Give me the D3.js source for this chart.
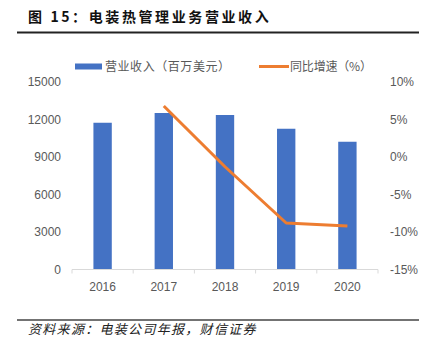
<!DOCTYPE html>
<html>
<head>
<meta charset="utf-8">
<script src="https://cdn.jsdelivr.net/npm/d3@7"></script>
<style>
  body { margin: 0; background: #fff; }
  svg { display: block; }
  .tk text { font-family: "Liberation Sans", Arial, sans-serif; font-size: 12px; fill: #595959; }
  .cjk { font-kerning: none; font-feature-settings: "chws" 0, "halt" 0, "palt" 0; }
</style>
</head>
<body>
<div id="chart"></div>
<script>
// 电装热管理业务营业收入
const years = ["2016", "2017", "2018", "2019", "2020"];
const revenue = [11740, 12520, 12360, 11260, 10220];
const growth = [null, 6.8, -1.3, -8.8, -9.2];
const left_ticks = [0, 3000, 6000, 9000, 12000, 15000];
const right_ticks = [-15, -10, -5, 0, 5, 10];

const w = 430;
const h = 352;
const margin = { top: 82, right: 52, bottom: 82.5, left: 72 };

const svg = d3.select("#chart").append("svg")
    .attr("width", w)
    .attr("height", h);

// title + rule
svg.append("text")
    .attr("class", "cjk")
    .attr("x", 28)
    .attr("y", 22)
    .style("font-family", "'Noto Sans CJK SC', sans-serif")
    .style("font-weight", "bold")
    .style("font-size", "14px")
    .style("letter-spacing", "2.6px")
    .style("fill", "#111")
    .text("图 15：电装热管理业务营业收入");

svg.append("line")
    .attr("x1", 17).attr("x2", 419)
    .attr("y1", 32.5).attr("y2", 32.5)
    .attr("stroke", "#222")
    .attr("stroke-width", 2);

const x = d3.scaleBand()
    .domain(years)
    .range([margin.left, w - margin.right])
    .paddingInner(0.7)
    .paddingOuter(0.35);

const y = d3.scaleLinear()
    .domain([0, 15000])
    .range([h - margin.bottom, margin.top]);

const y2 = d3.scaleLinear()
    .domain([-15, 10])
    .range([h - margin.bottom, margin.top]);

// left axis
svg.append("g")
    .attr("class", "tk")
    .attr("transform", `translate(${margin.left - 11},0)`)
    .call(d3.axisLeft(y).tickValues(left_ticks).tickSize(0).tickPadding(0).tickFormat(d3.format("d")))
    .call(g => g.select(".domain").remove());

// right axis
svg.append("g")
    .attr("class", "tk")
    .attr("transform", `translate(${w - margin.right + 12},0)`)
    .call(d3.axisRight(y2).tickValues(right_ticks).tickSize(0).tickPadding(0).tickFormat(d => d + "%"))
    .call(g => g.select(".domain").remove());

// bars
svg.append("g")
    .selectAll("rect")
    .data(years)
    .join("rect")
    .attr("x", d => x(d))
    .attr("width", x.bandwidth())
    .attr("y", (d, i) => y(revenue[i]))
    .attr("height", (d, i) => y(0) - y(revenue[i]))
    .attr("fill", "#4472C4");

// x axis
const base = y(0);
const xa = svg.append("g").attr("transform", `translate(0,${base})`);
xa.append("line")
    .attr("x1", margin.left).attr("x2", w - margin.right)
    .attr("stroke", "#d9d9d9")
    .attr("stroke-width", 1);
const bounds = years.map(d => x(d) - x.step() * x.paddingInner() / 2);
bounds.push(w - margin.right);
xa.selectAll("line.tick")
    .data(bounds)
    .join("line")
    .attr("class", "tick")
    .attr("x1", d => d).attr("x2", d => d)
    .attr("y1", 0).attr("y2", 4)
    .attr("stroke", "#d9d9d9");
xa.append("g")
    .attr("class", "tk")
    .selectAll("text")
    .data(years)
    .join("text")
    .attr("x", d => x(d) + x.bandwidth() / 2)
    .attr("y", 21.5)
    .attr("text-anchor", "middle")
    .text(d => d);

// growth line
const pts = years.map((d, i) => ({ year: d, v: growth[i] })).filter(d => d.v !== null);
svg.append("path")
    .datum(pts)
    .attr("fill", "none")
    .attr("stroke", "#ED7D31")
    .attr("stroke-width", 3)
    .attr("stroke-linejoin", "round")
    .attr("d", d3.line()
        .x(d => x(d.year) + x.bandwidth() / 2)
        .y(d => y2(d.v)));

// legend
const lg = svg.append("g").attr("class", "tk");
lg.append("rect")
    .attr("x", 75).attr("y", 63.5)
    .attr("width", 27).attr("height", 6)
    .attr("fill", "#4472C4");
lg.append("text")
    .attr("class", "cjk")
    .attr("x", 105).attr("y", 71)
    .attr("textLength", 125)
    .style("font-family", "'Noto Sans CJK SC', sans-serif")
    .text("营业收入（百万美元）");
lg.append("line")
    .attr("x1", 259).attr("x2", 289)
    .attr("y1", 66.5).attr("y2", 66.5)
    .attr("stroke", "#ED7D31")
    .attr("stroke-width", 3);
lg.append("text")
    .attr("class", "cjk")
    .attr("x", 290).attr("y", 71)
    .attr("textLength", 82)
    .style("font-family", "'Noto Sans CJK SC', sans-serif")
    .text("同比增速（%）");

// source
svg.append("line")
    .attr("x1", 17).attr("x2", 419)
    .attr("y1", 320).attr("y2", 320)
    .attr("stroke", "#444")
    .attr("stroke-width", 1.5);

svg.append("text")
    .attr("class", "cjk")
    .attr("x", 28)
    .attr("y", 334)
    .style("font-family", "'Noto Sans CJK SC', sans-serif")
    .style("font-style", "italic")
    .style("font-size", "13px")
    .style("letter-spacing", "1.3px")
    .style("fill", "#222")
    .text("资料来源：电装公司年报，财信证券");
</script>
</body>
</html>
